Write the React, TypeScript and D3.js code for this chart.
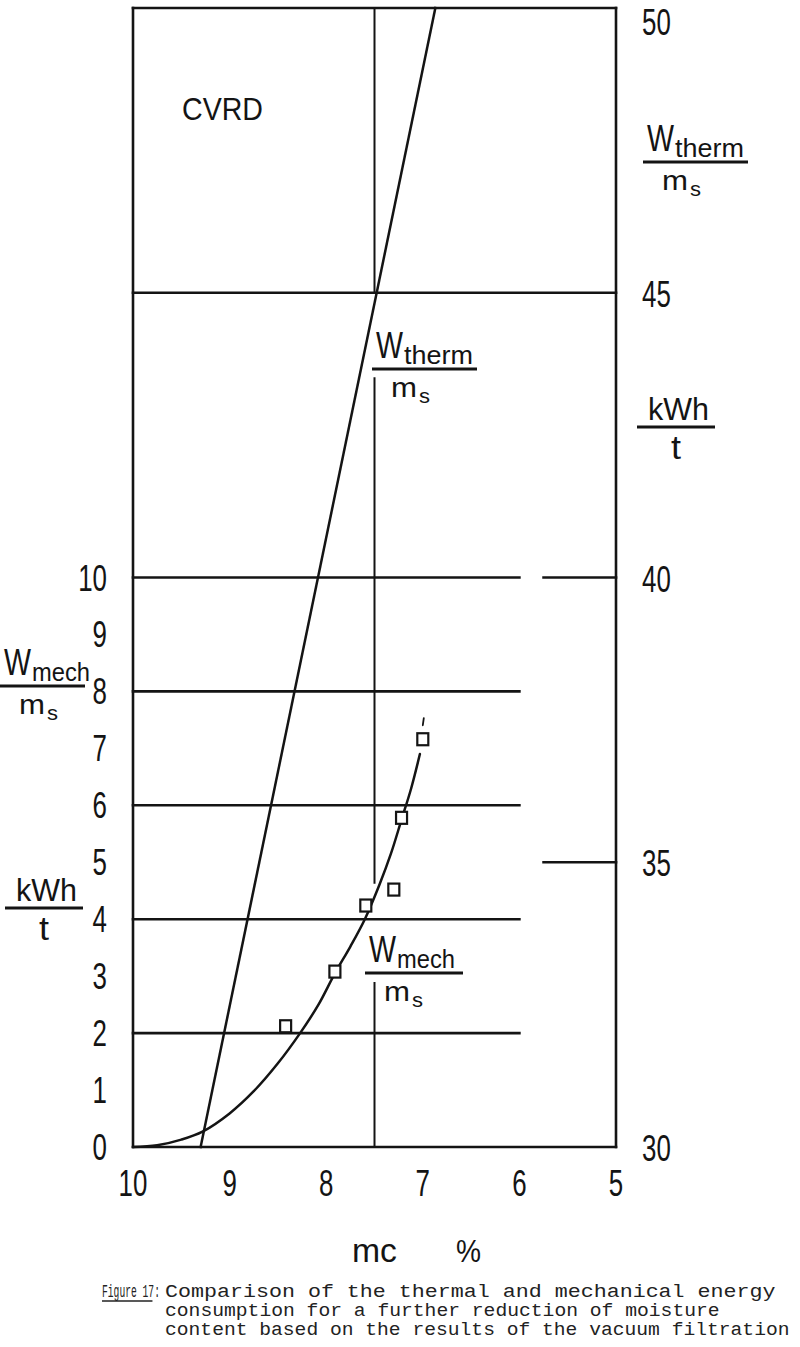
import React from "react";
import * as d3 from "d3";

// ---- data ----
const X_TICKS = [10, 9, 8, 7, 6, 5];
const LEFT_TICKS = [0, 1, 2, 3, 4, 5, 6, 7, 8, 9, 10];
const RIGHT_TICKS = [30, 35, 40, 45, 50];
const LEFT_GRID = [2, 4, 6, 8, 10];
const RIGHT_STUBS = [35, 40];
const FULL_GRID = [45];

// mechanical energy curve (mc %, kWh/t)
const MECH_X = [10, 9.75, 9.5, 9.28, 9.0, 8.75, 8.5, 8.27, 8.08, 7.91, 7.75, 7.6, 7.45, 7.33, 7.22, 7.12, 7.03];
const MECH_Y = [0, 0.03, 0.13, 0.27, 0.59, 0.98, 1.47, 2.0, 2.5, 3.05, 3.52, 4.0, 4.6, 5.15, 5.75, 6.3, 6.9];
// measured points
const MEAS_X = [8.42, 7.91, 7.59, 7.3, 7.22, 7.0];
const MEAS_Y = [2.12, 3.08, 4.24, 4.52, 5.78, 7.16];
// thermal energy line (mc %, kWh/t on right axis)
const THERM_X = [9.3, 6.87];
const THERM_Y = [30, 50];
// vertical reference line at 7.5 %, drawn in pieces (left-axis units)
const VREF_X = 7.5;
const VREF_SEGS: [number, number][] = [[15, 20], [4.64, 13.5], [0, 2.88]];

const CAPTION_HEAD = "Figure 17:";
const CAPTION = [
  "Comparison of the thermal and mechanical energy",
  "consumption for a further reduction of moisture",
  "content based on the results of the vacuum filtration",
];

const W = 800, H = 1347;
const INK = "#141414";
const NUM_FONT = "'Liberation Sans', 'DejaVu Sans', sans-serif";
const LBL_FONT = "'Liberation Sans', 'DejaVu Sans', sans-serif";
const MONO = "'Liberation Mono', 'DejaVu Sans Mono', monospace";

let _ctx: CanvasRenderingContext2D | null = null;
function measure(text: string, size: number, family: string): number {
  if (!_ctx) _ctx = document.createElement("canvas").getContext("2d");
  if (!_ctx) return text.length * size * 0.55;
  _ctx.font = `${size}px ${family}`;
  return _ctx.measureText(text).width || text.length * size * 0.55;
}

type FitProps = {
  x: number; y: number; w?: number; sx?: number; size: number; family: string;
  anchor?: "start" | "middle" | "end"; children: string; fill?: string;
};
function Fit({ x, y, w, sx, size, family, anchor = "start", children, fill = INK }: FitProps) {
  const s = sx !== undefined ? sx : (w ?? 10) / measure(children, size, family);
  return (
    <text transform={`translate(${x},${y}) scale(${s},1)`} fontSize={size} fontFamily={family}
      textAnchor={anchor} fill={fill}>{children}</text>
  );
}

export default function App() {
  const x = d3.scaleLinear().domain([10, 5]).range([133, 616]);
  const yR = d3.scaleLinear().domain([30, 50]).range([1147, 8]);
  const yL = d3.scaleLinear().domain([0, 20]).range([1147, 8]);

  const mechPts = MECH_X.map((v, i) => [x(v), yL(MECH_Y[i])] as [number, number]);
  const mechPath = d3.line().curve(d3.curveCatmullRom.alpha(0.5))(mechPts) || "";
  const thermPath = d3.line()(THERM_X.map((v, i) => [x(v), yR(THERM_Y[i])] as [number, number])) || "";

  const sw = 2.6;

  const wLabel = (bx: number, by: number, barW: number, sub: string, subLen: number, key: string) => (
    <g key={key}>
      <Fit x={bx + 4} y={by - 11} w={27} size={36} family={LBL_FONT}>W</Fit>
      <Fit x={bx + 32} y={by - 5} w={subLen} size={25} family={LBL_FONT}>{sub}</Fit>
      <line x1={bx} x2={bx + barW} y1={by} y2={by} stroke={INK} strokeWidth={3} />
      <Fit x={bx + 19} y={by + 28} w={26} size={28} family={LBL_FONT}>m</Fit>
      <Fit x={bx + 47} y={by + 34} w={11} size={21} family={LBL_FONT}>s</Fit>
    </g>
  );

  const kwhLabel = (bx: number, by: number, key: string) => (
    <g key={key}>
      <Fit x={bx + 11} y={by - 7} w={61} size={32} family={LBL_FONT}>kWh</Fit>
      <line x1={bx} x2={bx + 78} y1={by} y2={by} stroke={INK} strokeWidth={3} />
      <Fit x={bx + 34} y={by + 32} w={10} size={34} family={LBL_FONT}>t</Fit>
    </g>
  );

  const capHeadW = 58;
  const lastX = MEAS_X[MEAS_X.length - 1];
  const lastY = MEAS_Y[MEAS_Y.length - 1];

  return (
    <svg width={W} height={H} viewBox={`0 0 ${W} ${H}`} style={{ position: "absolute", left: 0, top: 0, background: "#fff" }}>
      <rect x={0} y={0} width={W} height={H} fill="#fff" />
      <g stroke={INK} strokeWidth={sw} fill="none" strokeLinecap="square">
        {/* frame */}
        <line x1={x(10)} x2={x(10)} y1={yL(0)} y2={yL(20)} />
        <line x1={x(5)} x2={x(5)} y1={yL(0)} y2={yL(20)} />
        <line x1={x(10)} x2={x(5)} y1={yL(20)} y2={yL(20)} />
        <line x1={x(10)} x2={x(5)} y1={yL(0)} y2={yL(0)} />
        {/* grid */}
        {FULL_GRID.map((v) => (
          <line key={"f" + v} x1={x(10)} x2={x(5)} y1={yR(v)} y2={yR(v)} />
        ))}
        {LEFT_GRID.map((v) => (
          <line key={"l" + v} x1={x(10)} x2={x(6)} y1={yL(v)} y2={yL(v)} />
        ))}
        {RIGHT_STUBS.map((v) => (
          <line key={"r" + v} x1={x(5.75)} x2={x(5)} y1={yR(v)} y2={yR(v)} />
        ))}
        {VREF_SEGS.map(([a, b], i) => (
          <line key={"v" + i} x1={x(VREF_X)} x2={x(VREF_X)} y1={yL(a)} y2={yL(b)} strokeWidth={2} />
        ))}
        {/* curves */}
        <path d={thermPath} strokeWidth={2.5} />
        <path d={mechPath} strokeWidth={2.5} strokeLinecap="round" />
        {/* small pen mark above the last point */}
        <line x1={x(lastX) + 1} x2={x(lastX)} y1={yL(lastY) - 21} y2={yL(lastY) - 14} strokeWidth={1.8} strokeLinecap="round" />
      </g>
      {/* measured points */}
      <g stroke={INK} strokeWidth={2.2} fill="#fff">
        {MEAS_X.map((v, i) => (
          <rect key={i} x={x(v) - 5.5} y={yL(MEAS_Y[i]) - 6} width={11} height={12} />
        ))}
      </g>

      {/* tick labels */}
      {LEFT_TICKS.map((t) => (
        <Fit key={"lt" + t} x={107} y={yL(t) + 13} sx={0.7} size={37} family={NUM_FONT} anchor="end">{String(t)}</Fit>
      ))}
      {RIGHT_TICKS.map((t) => (
        <Fit key={"rt" + t} x={642} y={Math.max(yR(t) + 14, 35)} sx={0.7} size={37} family={NUM_FONT}>{String(t)}</Fit>
      ))}
      {X_TICKS.map((t) => (
        <Fit key={"xt" + t} x={x(t)} y={1196} sx={0.7} size={37} family={NUM_FONT} anchor="middle">{String(t)}</Fit>
      ))}

      {/* annotations */}
      <Fit x={182} y={120} w={81} size={32} family={LBL_FONT}>CVRD</Fit>
      {wLabel(643, 162, 105, "therm", 69, "wt1")}
      {wLabel(372, 369, 105, "therm", 69, "wt2")}
      {wLabel(0, 686, 85, "mech", 58, "wm1")}
      {wLabel(365, 973, 98, "mech", 58, "wm2")}
      {kwhLabel(637, 427, "k1")}
      {kwhLabel(5, 908, "k2")}

      <Fit x={352} y={1262} w={45} size={34} family={LBL_FONT}>mc</Fit>
      <Fit x={456} y={1262} w={25} size={32} family={LBL_FONT}>%</Fit>

      {/* caption */}
      <Fit x={102} y={1297} w={capHeadW} size={19} family={MONO} fill="#222">{CAPTION_HEAD}</Fit>
      <line x1={102} x2={102 + capHeadW * 0.87} y1={1301} y2={1301} stroke="#222" strokeWidth={1.3} />
      <Fit x={165} y={1297} w={611} size={19} family={MONO} fill="#222">{CAPTION[0]}</Fit>
      <Fit x={165} y={1316} w={555} size={19} family={MONO} fill="#222">{CAPTION[1]}</Fit>
      <Fit x={165} y={1335} w={625} size={19} family={MONO} fill="#222">{CAPTION[2]}</Fit>
    </svg>
  );
}
